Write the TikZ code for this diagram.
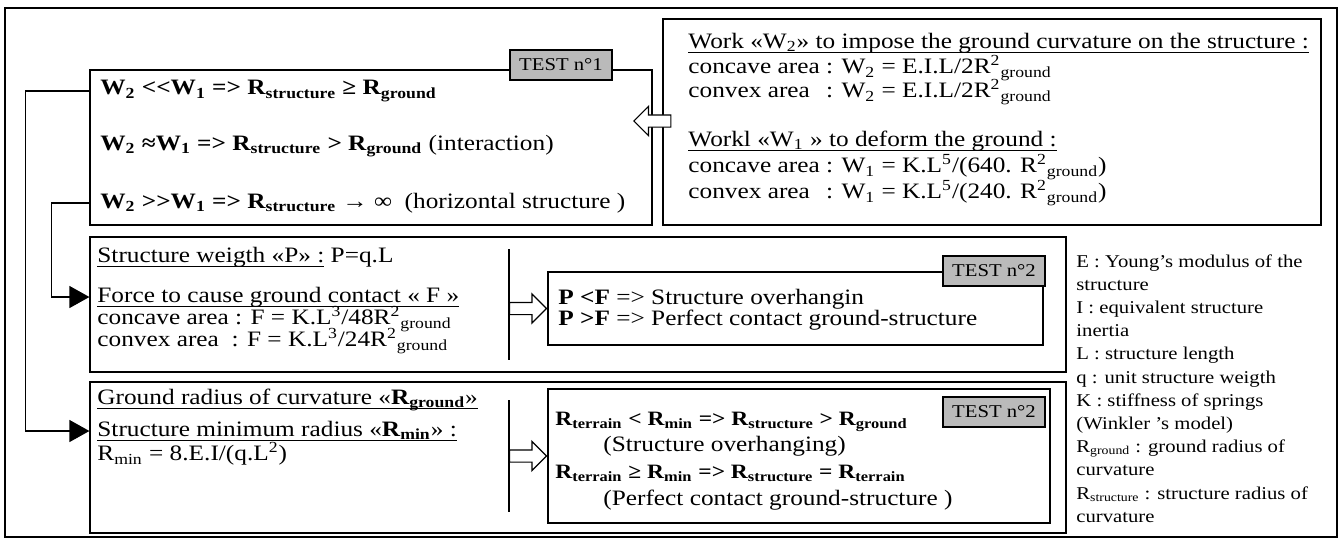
\documentclass[tikz,border=0pt]{standalone}
\usepackage{fontspec}
\setmainfont{Liberation Serif}[FakeStretch=1.15]
\usepackage{calc}
\usetikzlibrary{arrows.meta,positioning,fit,shapes.arrows}
\definecolor{TestGray}{RGB}{186,186,186}
\newcommand{\convexarea}{\makebox[\widthof{concave area }][l]{convex area}}
\newcommand{\Rg}{R\textsuperscript{2}\textsubscript{ground}}
\newsavebox{\ulbox}
\newcommand{\uln}[1]{\sbox{\ulbox}{#1}\rlap{\rule[-2.2pt]{\wd\ulbox}{0.5pt}}\usebox{\ulbox}}

\begin{document}
\begin{tikzpicture}[x=0.5pt, y=-0.5pt,
    panel/.style={draw, line width=0.6pt, inner sep=0pt},
    txt/.style={anchor=west, inner sep=0pt, font=\fontsize{11}{12}\selectfont},
    boldtxt/.style={txt, font=\fontsize{10.2}{12}\selectfont\bfseries},
    legend/.style={anchor=north west, align=left, inner sep=0pt, font=\fontsize{9}{11.6}\selectfont},
    testbox/.style={draw, fill=TestGray, line width=0.6pt, minimum width=51pt, minimum height=15pt,
                    inner sep=0pt, font=\fontsize{9}{10}\selectfont},
    fat/.style={single arrow, draw, fill=white, line width=0.6pt, minimum height=18.5pt,
                inner xsep=0pt, inner ysep=2.75pt, text height=0pt, text depth=0pt,
                single arrow head extend=4.25pt, anchor=tip},
    conn/.style={line width=0.6pt, -{Triangle[length=10pt, width=11pt]}}
]
    \useasboundingbox (0,0) rectangle (1342,542);
    \node[panel, fit={(5,8) (1337,537)}] (frame) {};
    % boxes
    \node[panel, fit={(90,70) (652,225)}] (tl) {};
    \node[panel, fit={(663,19) (1321,225)}] (tr) {};
    \node[panel, fit={(90,237) (1066,372)}] (md) {};
    \node[panel, fit={(90,382) (1066,533)}] (bt) {};
    \node[panel, fit={(548,272) (1043,345)}] (mi) {};
    \node[panel, fit={(548,389) (1050,523)}] (bi) {};

    \node[testbox] (t1) at (561,65) {TEST n°1};
    \node[testbox] (t2) at (994,271) {TEST n°2};
    \node[testbox] (t3) at (994,412) {TEST n°2};

    % test n°1
    \node[txt] (tl1) at (100,91) {\textbf{W\textsubscript{2} <{}<W\textsubscript{1} => R\textsubscript{structure} ≥ R\textsubscript{ground}}};
    \node[txt] (tl2) at (100,146) {\textbf{W\textsubscript{2} ≈W\textsubscript{1} => R\textsubscript{structure} > R\textsubscript{ground}} (interaction)};
    \node[txt] (tl3) at (100,203) {\textbf{W\textsubscript{2} >{}>W\textsubscript{1} => R\textsubscript{structure}} → ∞~ (horizontal structure )};

    \node[txt] (tr1) at (688,43) {\uln{Work «W\textsubscript{2}» to impose the ground curvature on the structure :}};
    \node[txt] (tr2) at (688,68) {concave area : W\textsubscript{2} = E.I.L/2\Rg};
    \node[txt] (tr3) at (688,92) {\convexarea: W\textsubscript{2} = E.I.L/2\Rg};
    \node[txt] (tr4) at (688,141) {\uln{Workl «W\textsubscript{1} » to deform the ground :}};
    \node[txt] (tr5) at (688,167) {concave area : W\textsubscript{1} = K.L\textsuperscript{5}/(640. \Rg)};
    \node[txt] (tr6) at (688,193) {\convexarea: W\textsubscript{1} = K.L\textsuperscript{5}/(240. \Rg)};

    % test n°2
    \node[txt] (md1) at (97,257) {\uln{Structure weigth «P» :} P=q.L};
    \node[txt] (md2) at (97,297) {\uln{Force to cause ground contact « F »}};
    \node[txt] (md3) at (97,319) {concave area : F = K.L\textsuperscript{3}/48\Rg};
    \node[txt] (md4) at (97,341) {convex area~ : F = K.L\textsuperscript{3}/24\Rg};
    \node[txt] (mi1) at (558,299) {\textbf{P <F} => Structure overhangin};
    \node[txt] (mi2) at (558,320) {\textbf{P >F} => Perfect contact ground-structure};

    \node[txt] (bt1) at (97,400) {\uln{Ground radius of curvature «\textbf{R\textsubscript{ground}}»}};
    \node[txt] (bt2) at (97,431) {\uln{Structure minimum radius «\textbf{R\textsubscript{min}}» :}};
    \node[txt] (bt3) at (97,454) {R\textsubscript{min} = 8.E.I/(q.L\textsuperscript{2})};
    \node[boldtxt] (bi1) at (555,422) {R\textsubscript{terrain} < R\textsubscript{min} => R\textsubscript{structure} > R\textsubscript{ground}};
    \node[txt] (bi2) at (603,446) {(Structure overhanging)};
    \node[boldtxt] (bi3) at (555,473) {R\textsubscript{terrain} ≥ R\textsubscript{min} => R\textsubscript{structure} = R\textsubscript{terrain}};
    \node[txt] (bi4) at (603,500) {(Perfect contact ground-structure )};

    \node[legend] (lg) at (1076,254) {E : Young’s modulus of the\\structure\\I : equivalent structure\\inertia\\
        L : structure length\\q : unit structure weigth\\K : stiffness of springs\\(Winkler ’s model)\\
        R\textsubscript{ground} : ground radius of\\curvature\\R\textsubscript{structure} : structure radius of\\curvature};

    % links
    \draw[conn] (tl.west |- tl1.west) -- ++(-64,0) |- (bt.west |- bt2.west);
    \draw[conn] (tl.west |- tl3.west) -- ++(-38,0) |- (md.west |- md2.west);

    \node[fat, shape border rotate=180] (h1) at (633,121) {};
    \node[fat] (h2) at (mi.west) {};
    \node[fat] (h3) at (bi.west) {};
    \draw[line width=0.6pt] (509,249) -- (509,360);
    \draw[line width=0.6pt] (509,400) -- (509,512);
\end{tikzpicture}
\end{document}
